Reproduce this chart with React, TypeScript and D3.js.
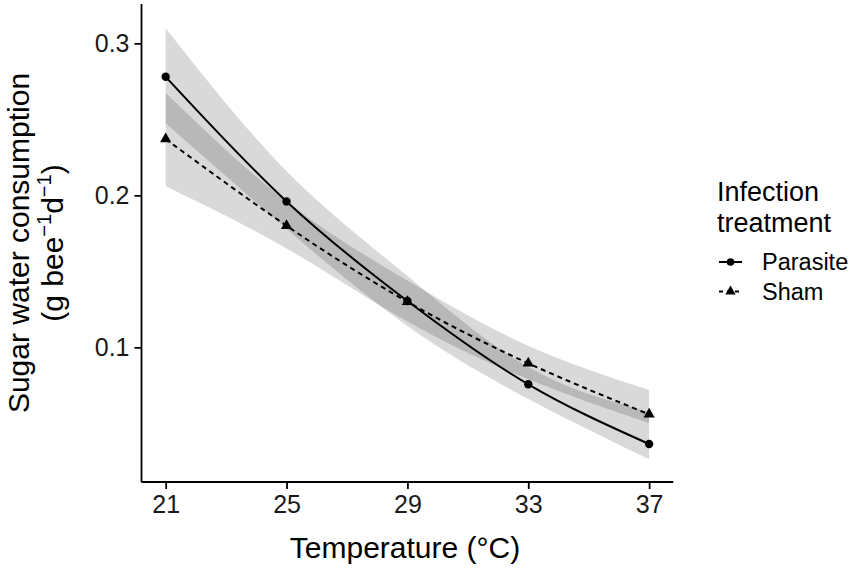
import React, { useEffect, useRef } from "react";
import * as d3 from "d3";

// model fits and 95% bands
const temps = [21, 25, 29, 33, 37];
const parasiteFit = [0.278, 0.196, 0.1305, 0.0757, 0.0364];
const parasiteLow = [0.2475, 0.178, 0.114, 0.066, 0.0263];
const parasiteHigh = [0.31, 0.216, 0.147, 0.087, 0.0575];
const shamFit = [0.237, 0.18, 0.13, 0.0895, 0.0559];
const shamLow = [0.206, 0.165, 0.117, 0.079, 0.05];
const shamHigh = [0.2674, 0.196, 0.144, 0.101, 0.0719];

const xTicks = [21, 25, 29, 33, 37];
const yTicks = [0.1, 0.2, 0.3];
const groups = ["Parasite", "Sham"];

const font = "'Liberation Sans', Arial, Helvetica, sans-serif";

function drawChart(node: SVGSVGElement) {
  const svg = d3.select(node);
  svg.selectAll("*").remove();

  const x = d3.scaleLinear().domain([20.2, 37.8]).range([141.5, 673.3]);
  const y = d3.scaleLinear().domain([0.0114, 0.3259]).range([482, 4]);

  const series = [
    { name: groups[0], fit: parasiteFit, low: parasiteLow, high: parasiteHigh, dash: null, shape: d3.symbolCircle },
    { name: groups[1], fit: shamFit, low: shamLow, high: shamHigh, dash: "5,4", shape: d3.symbolTriangle }
  ];

  const area = d3.area<number>()
    .x((d, i) => x(temps[i]))
    .y0((d, i) => y(d))
    .curve(d3.curveNatural);

  const line = d3.line<number>()
    .x((d, i) => x(temps[i]))
    .y(d => y(d))
    .curve(d3.curveNatural);

  const g = svg.append("g");

  // ribbons
  series.forEach(s => {
    g.append("path")
      .attr("d", area.y1((d, i) => y(s.high[i]))(s.low))
      .attr("fill", "#000")
      .attr("fill-opacity", 0.15);
  });

  // fitted lines
  series.forEach(s => {
    g.append("path")
      .attr("d", line(s.fit))
      .attr("fill", "none")
      .attr("stroke", "#000")
      .attr("stroke-width", 2)
      .attr("stroke-dasharray", s.dash);
  });

  // points
  series.forEach(s => {
    const sym = d3.symbol().type(s.shape).size(s.shape === d3.symbolCircle ? 55 : 55);
    g.selectAll(null)
      .data(s.fit)
      .enter().append("path")
      .attr("d", sym)
      .attr("transform", (d, i) => "translate(" + x(temps[i]) + "," + y(d) + ")")
      .attr("fill", "#000");
  });

  // axes
  const xAxis = svg.append("g")
    .attr("transform", "translate(0,482)")
    .call(d3.axisBottom(x).tickValues(xTicks).tickSize(7).tickPadding(6).tickFormat(d3.format("d")));
  xAxis.select(".domain").attr("d", "M141.5,0H673.3");

  const yAxis = svg.append("g")
    .attr("transform", "translate(141.5,0)")
    .call(d3.axisLeft(y).tickValues(yTicks).tickSize(7).tickPadding(5).tickFormat(d3.format(".1f")));
  yAxis.select(".domain").attr("d", "M0,4V482");

  [xAxis, yAxis].forEach(a => {
    a.select(".domain").attr("stroke", "#000").attr("stroke-width", 1.8);
    a.selectAll(".tick line").attr("stroke", "#000").attr("stroke-width", 1.8);
    a.selectAll(".tick text")
      .attr("fill", "#1a1a1a")
      .style("font-family", font)
      .style("font-size", "25px");
  });

  // axis titles
  svg.append("text")
    .attr("x", 405)
    .attr("y", 558)
    .attr("text-anchor", "middle")
    .style("font-family", font)
    .style("font-size", "30px")
    .text("Temperature (°C)");

  const yt = svg.append("g").attr("transform", "translate(0,243) rotate(-90)");
  yt.append("text")
    .attr("x", 0)
    .attr("y", 29)
    .attr("text-anchor", "middle")
    .style("font-family", font)
    .style("font-size", "30px")
    .text("Sugar water consumption");
  const sub = yt.append("text")
    .attr("x", 0)
    .attr("y", 63)
    .attr("text-anchor", "middle")
    .style("font-family", font)
    .style("font-size", "30px");
  sub.append("tspan").text("(g bee");
  sub.append("tspan").attr("dy", -12).style("font-size", "20px").text("−1");
  sub.append("tspan").attr("dy", 12).text("d");
  sub.append("tspan").attr("dy", -12).style("font-size", "20px").text("−1");
  sub.append("tspan").attr("dy", 12).text(")");

  // legend
  const lg = svg.append("g").attr("transform", "translate(717,0)");
  ["Infection", "treatment"].forEach((t, i) => {
    lg.append("text")
      .attr("x", 0)
      .attr("y", 201 + i * 31)
      .style("font-family", font)
      .style("font-size", "27px")
      .text(t);
  });
  series.forEach((s, i) => {
    const cy = 262 + i * 29.5;
    lg.append("line")
      .attr("x1", 2).attr("x2", 25)
      .attr("y1", cy).attr("y2", cy)
      .attr("stroke", "#000")
      .attr("stroke-width", 2)
      .attr("stroke-dasharray", s.dash ? "4,4" : null);
    lg.append("path")
      .attr("d", d3.symbol().type(s.shape).size(45)())
      .attr("transform", "translate(13.5," + cy + ")")
      .attr("fill", "#000");
    lg.append("text")
      .attr("x", 45)
      .attr("y", cy)
      .attr("dy", "0.36em")
      .style("font-family", font)
      .style("font-size", "23.5px")
      .text(s.name);
  });
}

export default function App() {
  const ref = useRef<SVGSVGElement>(null);
  useEffect(() => {
    if (ref.current) drawChart(ref.current);
  }, []);
  return (
    <svg
      ref={ref}
      width={854}
      height={570}
      style={{ position: "absolute", left: 0, top: 0, background: "#fff" }}
    />
  );
}
